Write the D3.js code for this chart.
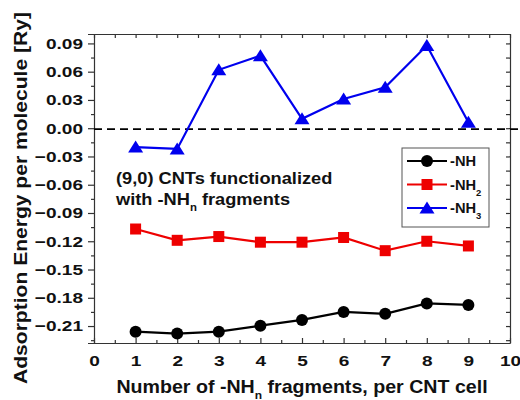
<!DOCTYPE html>
<html><head><meta charset="utf-8">
<script src="https://cdn.jsdelivr.net/npm/d3@7"></script>
<style>body{margin:0;background:#fff}svg{display:block;font-family:Arial,"Liberation Sans",sans-serif;font-weight:bold}</style>
</head><body><svg id="c" width="520" height="400"></svg>
<script>
const fragments = [1,2,3,4,5,6,7,8,9];
const nhValues  = [-0.216,-0.218,-0.216,-0.2096,-0.2035,-0.195,-0.197,-0.186,-0.1876];
const nh2Values = [-0.107,-0.119,-0.115,-0.121,-0.121,-0.116,-0.130,-0.120,-0.125];
const nh3Values = [-0.020,-0.022,0.062,0.077,0.010,0.031,0.0435,0.0877,0.0064];
const yMajorTicks = [-0.21,-0.18,-0.15,-0.12,-0.09,-0.06,-0.03,0.00,0.03,0.06,0.09];
const xMajorTicks = [0,1,2,3,4,5,6,7,8,9,10];
const referenceLevel = -0.001;

const svg = d3.select("#c");
const L=94,R=510,T=34,B=343;
const x = d3.scaleLinear().domain([0,10]).range([L,R]);
const y = d3.scaleLinear().domain([-0.228,0.1]).range([B,T]);

const yMinor = d3.range(-0.225,0.1,0.03).map(v=>+v.toFixed(3));
const yAll = d3.range(-0.225,0.1,0.015).map(v=>+v.toFixed(3));
const xMinor = d3.range(0.5,10,1);
const xAll = d3.range(0,10.01,0.5);
const TS = 1.27; // horizontal stretch of tick labels

function style(g){g.selectAll("path,line").attr("stroke","#333").attr("stroke-width",1.2);}
function tickText(g){g.selectAll("text").attr("font-size",15).attr("font-weight","bold").attr("font-family","Arial").attr("fill","#111");}

// left axis
svg.append("g").attr("transform",`translate(${L},0)`)
  .call(d3.axisLeft(y).tickValues(yMajorTicks).tickSize(6).tickPadding(4).tickFormat(d3.format(".2f")))
  .call(style).call(tickText)
  .call(g=>g.selectAll("text").attr("x",0).attr("transform",`translate(-11,0) scale(${TS},1)`));
svg.append("g").attr("transform",`translate(${L},0)`)
  .call(d3.axisLeft(y).tickValues(yMinor).tickSize(3).tickFormat(""))
  .call(style).call(g=>g.select(".domain").remove());
// bottom axis
svg.append("g").attr("transform",`translate(0,${B})`)
  .call(d3.axisBottom(x).tickValues(xMajorTicks).tickSizeInner(-5).tickSizeOuter(0).tickPadding(12.5).tickFormat(d3.format("d")))
  .call(style).call(tickText)
  .call(g=>g.selectAll("text").attr("transform",`scale(${TS},1)`));
svg.append("g").attr("transform",`translate(0,${B})`)
  .call(d3.axisBottom(x).tickValues(xMinor).tickSize(-3).tickFormat(""))
  .call(style).call(g=>g.select(".domain").remove());
// top axis
svg.append("g").attr("transform",`translate(0,${T})`)
  .call(d3.axisTop(x).tickValues(xAll).tickSizeInner(-4).tickSizeOuter(0).tickFormat(""))
  .call(style);
// right axis
svg.append("g").attr("transform",`translate(${R},0)`)
  .call(d3.axisRight(y).tickValues(yAll).tickSizeInner(-4).tickSizeOuter(0).tickFormat(""))
  .call(style);

// dashed reference line
svg.append("line").attr("x1",L).attr("x2",520).attr("y1",y(referenceLevel)).attr("y2",y(referenceLevel))
  .attr("stroke","#000").attr("stroke-width",1.6).attr("stroke-dasharray","8,5");

const series = [
  {name:"-NH",sub:"",vals:nhValues,color:"#000000",shape:"circle"},
  {name:"-NH",sub:"2",vals:nh2Values,color:"#ee0000",shape:"square"},
  {name:"-NH",sub:"3",vals:nh3Values,color:"#0000ee",shape:"triangle"}
];
const line = d3.line().x(d=>x(d[0])).y(d=>y(d[1]));

function marker(g,shape,cx,cy,color){
  if(shape==="circle") g.append("circle").attr("cx",cx).attr("cy",cy).attr("r",6).attr("fill",color);
  else if(shape==="square") g.append("rect").attr("x",cx-5.5).attr("y",cy-5.5).attr("width",11).attr("height",11).attr("fill",color);
  else g.append("path").attr("d",`M${cx},${cy-6.5}L${cx+7.5},${cy+5.5}L${cx-7.5},${cy+5.5}Z`).attr("fill",color);
}

series.forEach(s=>{
  const pts = fragments.map((f,i)=>[f,s.vals[i]]);
  svg.append("path").attr("d",line(pts)).attr("fill","none").attr("stroke",s.color).attr("stroke-width",2.2);
  const g = svg.append("g");
  pts.forEach(p=>marker(g,s.shape,x(p[0]),y(p[1]),s.color));
});

// legend
const lg = svg.append("g");
lg.append("rect").attr("x",402).attr("y",148).attr("width",87).attr("height",79).attr("fill","#fff").attr("stroke","#555").attr("stroke-width",1);
series.forEach((s,i)=>{
  const ly = 161 + i*23.5;
  lg.append("line").attr("x1",407).attr("x2",447).attr("y1",ly).attr("y2",ly).attr("stroke",s.color).attr("stroke-width",2.2);
  marker(lg,s.shape,427,ly,s.color);
  const t = lg.append("text").attr("transform",`translate(450,${ly+5}) scale(1.05,1)`).attr("font-size",14).attr("fill","#111");
  t.append("tspan").text(s.name);
  if(s.sub) t.append("tspan").attr("font-size",9).attr("dy",6).text(s.sub);
});

// annotation
svg.append("text").attr("transform","translate(116,184) scale(1.14,1)").attr("font-size",16).attr("fill","#111").text("(9,0) CNTs functionalized");
const a2 = svg.append("text").attr("transform","translate(116,205) scale(1.14,1)").attr("font-size",16).attr("fill","#111");
a2.append("tspan").text("with -NH");
a2.append("tspan").attr("font-size",10).attr("dy",6).text("n");
a2.append("tspan").attr("dy",-6).text(" fragments");

// axis titles
const xt = svg.append("text").attr("transform","translate(302,393) scale(1.09,1)").attr("text-anchor","middle").attr("font-size",18).attr("fill","#111");
xt.append("tspan").text("Number of -NH");
xt.append("tspan").attr("font-size",11).attr("dy",6).text("n");
xt.append("tspan").attr("dy",-6).text(" fragments, per CNT cell");

svg.append("text").attr("transform","translate(27,198) rotate(-90) scale(1.17,1)").attr("text-anchor","middle")
  .attr("font-size",18).attr("fill","#111").text("Adsorption Energy per molecule [Ry]");
</script></body></html>
